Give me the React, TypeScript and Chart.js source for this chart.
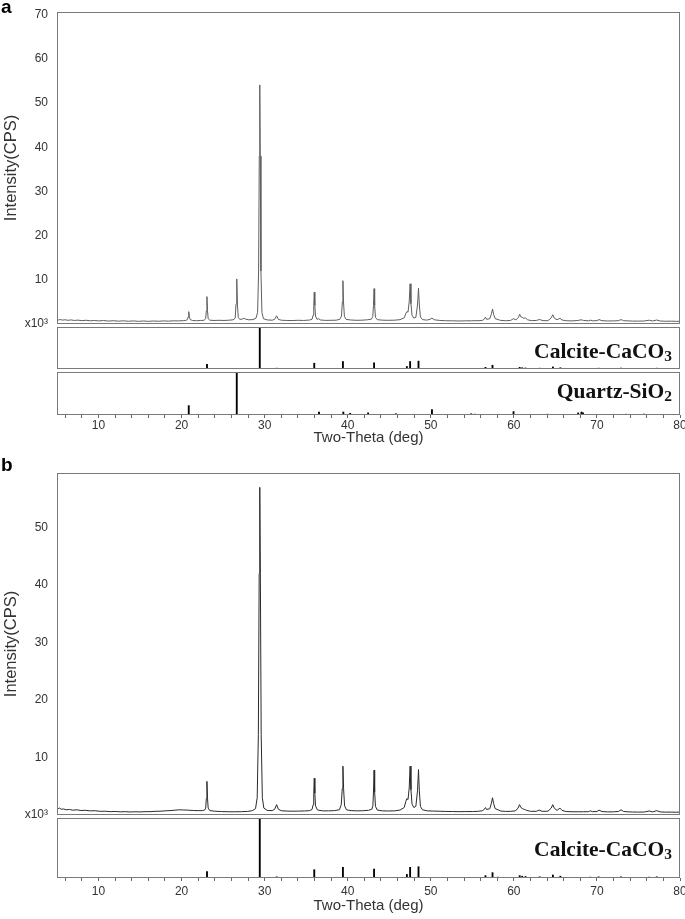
import { useEffect, useRef } from 'react';
import { Chart, registerables } from 'chart.js';

Chart.register(...registerables);

const W = 685;
const H = 919;
const FONT = '"Liberation Sans", Arial, sans-serif';
const TXT = '#333333';

// ---- axis ticks ----
const xTicks = [6, 8, 10, 12, 14, 16, 18, 20, 22, 24, 26, 28, 30, 32, 34, 36, 38, 40, 42, 44, 46, 48, 50, 52, 54, 56, 58, 60, 62, 64, 66, 68, 70, 72, 74, 76, 78, 80];
const xTickLabels = [10, 20, 30, 40, 50, 60, 70, 80];
const yTicksA = [0, 10, 20, 30, 40, 50, 60, 70];
const yTicksB = [0, 10, 20, 30, 40, 50];

// ---- measured pattern (a): [2-theta (deg), intensity (x10^3 CPS)] ----
const patternA: [number, number][] = [
  [5.0, 1.05], [5.2, 0.92], [5.4, 1.0], [5.7, 0.88], [6.0, 0.96], [6.3, 0.84], [6.7, 0.92], [7.1, 0.8], [7.5, 0.88], [8.0, 0.76],
  [8.5, 0.85], [9.0, 0.72], [9.5, 0.8], [10.0, 0.7], [10.6, 0.78], [11.2, 0.66], [11.8, 0.74], [12.4, 0.64], [13.0, 0.72], [13.6, 0.62],
  [14.2, 0.7], [14.8, 0.6], [15.4, 0.68], [16.0, 0.6], [16.6, 0.68], [17.2, 0.62], [17.8, 0.7], [18.4, 0.64], [19.0, 0.72], [19.6, 0.7],
  [20.2, 0.76], [20.5, 0.8], [20.7, 1.0], [20.78, 1.6], [20.86, 2.8], [20.94, 1.6], [21.04, 1.0], [21.3, 0.8],
  [21.8, 0.74], [22.3, 0.8], [22.7, 0.84], [22.9, 1.2], [22.98, 3.0], [23.05, 6.2], [23.12, 3.0], [23.2, 1.2], [23.4, 0.86],
  [23.9, 0.8], [24.5, 0.84], [25.1, 0.8], [25.7, 0.86], [26.2, 0.95], [26.45, 1.3], [26.55, 4.5], [26.64, 10.2], [26.72, 4.5], [26.82, 1.5], [27.0, 1.05],
  [27.3, 1.1], [27.5, 1.3], [27.7, 1.1], [28.1, 0.95], [28.6, 1.0], [28.95, 1.3],
  [29.15, 2.6], [29.27, 12], [29.35, 38], [29.41, 54.1], [29.47, 38], [29.55, 12], [29.67, 2.6], [29.85, 1.2],
  [30.3, 0.92], [30.9, 0.86], [31.2, 1.05], [31.44, 1.85], [31.65, 1.05], [32.0, 0.86],
  [32.6, 0.8], [33.3, 0.78], [34.0, 0.84], [34.7, 0.8], [35.4, 0.9], [35.7, 1.05],
  [35.84, 2.0], [35.91, 4.2], [35.97, 7.2], [36.04, 4.2], [36.12, 1.8], [36.3, 1.05], [36.5, 1.2], [36.7, 0.92],
  [37.3, 0.82], [38.0, 0.84], [38.6, 0.86], [39.05, 1.05],
  [39.25, 1.8], [39.35, 5.0], [39.42, 9.8], [39.49, 5.0], [39.6, 1.7], [39.8, 1.05],
  [40.3, 0.92], [41.0, 0.84], [41.7, 0.86], [42.4, 0.96], [42.85, 1.1],
  [43.02, 1.7], [43.1, 4.2], [43.17, 8.0], [43.24, 4.2], [43.34, 1.5], [43.55, 0.98],
  [44.2, 0.86], [44.9, 0.84], [45.6, 0.86], [46.3, 0.98], [46.8, 1.4],
  [47.0, 2.4], [47.12, 2.8], [47.26, 2.7], [47.4, 5.0], [47.51, 9.1], [47.61, 4.6], [47.74, 2.0], [47.95, 1.35],
  [48.2, 1.5], [48.4, 4.3], [48.52, 8.1], [48.62, 4.3], [48.75, 1.6], [49.0, 1.0],
  [49.5, 0.88], [49.9, 1.05], [50.14, 1.35], [50.4, 0.96], [51.0, 0.82],
  [51.8, 0.74], [52.6, 0.72], [53.4, 0.68], [54.2, 0.72], [54.9, 0.72], [55.3, 0.76], [55.8, 0.74], [56.25, 0.84],
  [56.45, 1.1], [56.58, 1.55], [56.72, 1.05], [57.1, 1.2], [57.3, 2.3], [57.43, 3.4], [57.56, 2.2], [57.75, 1.2], [58.1, 1.0], [58.4, 0.82],
  [59.0, 0.74], [59.6, 0.8], [59.96, 1.2], [60.25, 0.92], [60.55, 1.5], [60.7, 2.2], [60.85, 1.6], [61.0, 1.5], [61.2, 1.3], [61.4, 1.35], [61.65, 0.96], [62.1, 0.76],
  [62.7, 0.8], [63.1, 1.02], [63.5, 0.76], [64.1, 0.76], [64.5, 1.4], [64.68, 2.1], [64.88, 1.3], [65.2, 0.96], [65.55, 1.3], [65.8, 0.9], [66.3, 0.74],
  [67.0, 0.7], [67.7, 0.8], [68.1, 0.95], [68.4, 0.8], [69.0, 0.72], [69.2, 0.88], [69.5, 0.72], [70.0, 0.76], [70.25, 1.0], [70.6, 0.76],
  [71.3, 0.68], [72.0, 0.7], [72.6, 0.76], [72.9, 1.0], [73.2, 0.76], [73.6, 0.72], [74.3, 0.66], [75.0, 0.65], [75.7, 0.68],
  [76.3, 0.86], [76.7, 0.68], [77.2, 0.9], [77.6, 0.68], [78.3, 0.62], [79.0, 0.64], [79.6, 0.6], [80.0, 0.62],
];

// ---- measured pattern (b) ----
const patternB: [number, number][] = [
  [5.0, 1.35], [5.15, 1.1], [5.3, 1.2], [5.5, 1.0], [5.8, 1.05], [6.1, 0.9], [6.5, 0.96], [6.9, 0.84], [7.4, 0.9], [7.9, 0.78],
  [8.4, 0.82], [9.0, 0.72], [9.6, 0.74], [10.2, 0.64], [10.8, 0.66], [11.4, 0.58], [12.0, 0.62], [12.6, 0.55], [13.2, 0.58], [13.8, 0.53],
  [14.4, 0.56], [15.0, 0.54], [15.6, 0.58], [16.2, 0.58], [16.8, 0.64], [17.4, 0.66], [18.0, 0.72], [18.6, 0.76], [19.2, 0.84], [19.7, 0.9],
  [20.2, 0.88], [20.8, 0.84], [21.4, 0.78], [22.0, 0.76], [22.5, 0.76], [22.78, 0.86],
  [22.9, 1.2], [22.98, 2.9], [23.05, 5.85], [23.12, 2.9], [23.2, 1.2], [23.4, 0.76],
  [24.0, 0.66], [24.8, 0.6], [25.6, 0.56], [26.4, 0.56], [27.2, 0.58], [27.9, 0.62], [28.5, 0.74], [28.9, 1.1],
  [29.1, 3.0], [29.24, 14], [29.34, 42], [29.41, 57], [29.48, 42], [29.58, 14], [29.72, 3.0], [29.9, 1.2],
  [30.3, 0.8], [30.9, 0.76], [31.2, 1.0], [31.44, 1.8], [31.65, 1.0], [32.0, 0.74],
  [32.7, 0.68], [33.4, 0.66], [34.1, 0.68], [34.8, 0.7], [35.4, 0.76], [35.7, 0.95],
  [35.84, 1.8], [35.91, 3.8], [35.97, 6.4], [36.04, 3.8], [36.12, 1.6], [36.35, 0.88],
  [37.0, 0.72], [37.7, 0.72], [38.4, 0.76], [39.0, 0.92],
  [39.22, 1.8], [39.34, 4.6], [39.42, 8.5], [39.5, 4.6], [39.62, 1.6], [39.85, 0.9],
  [40.4, 0.76], [41.1, 0.72], [41.8, 0.74], [42.5, 0.82], [42.9, 1.0],
  [43.03, 1.6], [43.1, 4.0], [43.17, 7.8], [43.24, 4.0], [43.34, 1.5], [43.55, 0.86],
  [44.2, 0.72], [44.9, 0.7], [45.6, 0.72], [46.3, 0.86], [46.8, 1.3],
  [47.0, 2.4], [47.12, 2.85], [47.26, 2.7], [47.4, 4.7], [47.51, 8.5], [47.61, 4.4], [47.74, 1.9], [47.95, 1.3],
  [48.2, 1.5], [48.4, 4.2], [48.52, 7.9], [48.62, 4.2], [48.75, 1.5], [49.0, 0.9],
  [49.6, 0.72], [50.3, 0.68], [51.0, 0.66], [51.8, 0.62], [52.6, 0.6], [53.4, 0.58], [54.2, 0.6], [55.0, 0.6], [55.7, 0.64], [56.2, 0.74],
  [56.45, 1.0], [56.58, 1.3], [56.72, 0.95], [57.1, 1.1], [57.3, 2.1], [57.43, 3.0], [57.56, 2.0], [57.75, 1.1], [58.1, 0.9], [58.4, 0.7],
  [59.0, 0.62], [59.6, 0.64], [60.2, 0.72], [60.5, 1.2], [60.68, 1.8], [60.85, 1.3], [61.05, 1.1], [61.3, 0.95], [61.55, 0.8], [62.0, 0.64],
  [62.7, 0.64], [63.05, 0.85], [63.4, 0.64], [64.1, 0.66], [64.5, 1.2], [64.68, 1.8], [64.88, 1.15], [65.2, 0.8], [65.55, 1.2], [65.8, 0.8], [66.3, 0.6],
  [67.0, 0.56], [67.7, 0.56], [68.4, 0.56], [69.0, 0.58], [69.2, 0.72], [69.45, 0.58], [70.0, 0.6], [70.25, 0.85], [70.6, 0.6],
  [71.3, 0.54], [72.0, 0.55], [72.6, 0.62], [72.9, 0.9], [73.2, 0.62], [73.6, 0.56], [74.3, 0.52], [75.0, 0.5], [75.7, 0.52],
  [76.3, 0.7], [76.7, 0.54], [77.2, 0.75], [77.6, 0.54], [78.3, 0.5], [79.0, 0.5], [79.6, 0.48], [80.0, 0.5],
];

// ---- reference cards (relative intensity, %) ----
const calcitePos = [23.06, 29.41, 31.44, 35.97, 39.42, 43.17, 47.12, 47.51, 48.52, 56.58, 57.43, 58.1, 60.7, 61.0, 61.4, 63.1, 64.7, 65.6, 69.2, 70.2, 72.9, 73.6, 76.3, 77.2];
const calciteInt = [11, 100, 2, 14, 18, 15, 6, 18, 19, 4, 9, 1.5, 4, 3, 2.5, 2, 5, 3, 1.5, 2, 2, 1, 1.5, 2];
const quartzPos = [20.86, 26.64, 36.54, 39.47, 40.29, 42.45, 45.79, 50.14, 54.87, 55.33, 59.96, 64.04, 65.79, 67.74, 68.14, 68.32, 73.47, 75.66, 77.68];
const quartzInt = [22, 100, 7, 7, 4, 5, 3, 13, 3, 2, 8, 2, 1, 5, 7, 5, 2, 2, 1.5];

const boxPlugin = {
  id: 'frameBox',
  afterDraw(chart: any) {
    const { ctx, chartArea: a } = chart;
    ctx.save();
    ctx.strokeStyle = '#7a7a7a';
    ctx.lineWidth = 1;
    const l = Math.round(a.left), t = Math.round(a.top), r = Math.round(a.right), b = Math.round(a.bottom);
    ctx.strokeRect(l + 0.5, t + 0.5, r - l - 1, b - t - 1);
    ctx.restore();
  },
};

function hiddenX() {
  return { type: 'linear', min: 5, max: 80, display: false, offset: false, grid: { offset: false } };
}

function axisX(tickPad: number, scaleH: number, titlePad: number) {
  return {
    type: 'linear', min: 5, max: 80, offset: false, position: 'bottom',
    afterBuildTicks: (s: any) => { s.ticks = xTicks.map((v) => ({ value: v })); },
    afterFit: (s: any) => { s.height = scaleH; s.paddingLeft = 0; s.paddingRight = 0; },
    ticks: {
      autoSkip: false, maxRotation: 0, minRotation: 0, padding: tickPad, color: TXT,
      font: { family: FONT, size: 12 },
      callback: (v: any) => (xTickLabels.includes(Number(v)) ? String(v) : ''),
    },
    grid: { display: true, drawOnChartArea: false, drawTicks: true, tickLength: 3, color: '#666666', offset: false },
    border: { display: false },
    title: { display: true, text: 'Two-Theta (deg)', color: TXT, font: { family: FONT, size: 15 }, padding: { top: 0, bottom: titlePad } },
  };
}

function axisY(max: number, ticks: number[]) {
  return {
    type: 'linear', min: 0, max,
    afterBuildTicks: (s: any) => { s.ticks = ticks.map((v) => ({ value: v })); },
    afterFit: (s: any) => { s.width = 57; s.paddingTop = 0; s.paddingBottom = 0; },
    ticks: { padding: 9, color: TXT, font: { family: FONT, size: 12 }, callback: (v: any) => (Number(v) === 0 ? 'x10³' : String(v)) },
    grid: { display: false, drawTicks: false },
    border: { display: false },
    title: { display: true, text: 'Intensity(CPS)', color: TXT, font: { family: FONT, size: 16.5 }, padding: { top: 2, bottom: 0 } },
  };
}

function baseOptions(padding: any, scales: any) {
  return {
    animation: false, responsive: false, devicePixelRatio: 1, events: [],
    layout: { padding },
    plugins: { legend: { display: false }, tooltip: { enabled: false }, title: { display: false } },
    scales,
  };
}

function makeMain(canvas: HTMLCanvasElement, pattern: [number, number][], color: string, ymax: number, yt: number[], top: number, bottom: number) {
  return new Chart(canvas, {
    type: 'line',
    data: { datasets: [{ data: pattern.map(([x, y]) => ({ x, y })), borderColor: color, borderWidth: 1, pointRadius: 0, tension: 0, fill: false }] },
    options: baseOptions({ left: 0, right: 5, top, bottom: H - bottom }, { x: hiddenX(), y: axisY(ymax, yt) }) as any,
    plugins: [boxPlugin],
  } as any);
}

function makeSticks(canvas: HTMLCanvasElement, pos: number[], ints: number[], top: number, bottom: number, axis: any, axisH: number) {
  return new Chart(canvas, {
    type: 'bar',
    data: { datasets: [{ data: pos.map((x, i) => ({ x, y: ints[i] })), backgroundColor: '#000000', borderWidth: 0, barThickness: 1.2 }] },
    options: baseOptions({ left: 57, right: 5, top, bottom: H - bottom - axisH }, { x: axis || hiddenX(), y: { type: 'linear', min: 0, max: 101, display: false } }) as any,
    plugins: [boxPlugin],
  } as any);
}

const phaseStyle: any = {
  position: 'absolute', right: 13, fontFamily: '"Liberation Serif", "Times New Roman", serif', fontWeight: 'bold',
  fontSize: 21.5, lineHeight: '22px', color: '#111', whiteSpace: 'nowrap', pointerEvents: 'none',
};
const subStyle: any = { fontSize: '0.72em', verticalAlign: '-0.22em', lineHeight: 0 };
const panelStyle: any = {
  position: 'absolute', left: 1, fontFamily: FONT, fontWeight: 'bold', fontSize: 19, lineHeight: '19px', color: '#000', pointerEvents: 'none',
};

export default function App() {
  const r0 = useRef<HTMLCanvasElement>(null);
  const r1 = useRef<HTMLCanvasElement>(null);
  const r2 = useRef<HTMLCanvasElement>(null);
  const r3 = useRef<HTMLCanvasElement>(null);
  const r4 = useRef<HTMLCanvasElement>(null);
  const refs = [r0, r1, r2, r3, r4];

  useEffect(() => {
    const charts = [
      makeMain(r0.current!, patternA, '#5e5e5e', 70.6, yTicksA, 12, 324),
      makeSticks(r1.current!, calcitePos, calciteInt, 327, 369, null, 0),
      makeSticks(r2.current!, quartzPos, quartzInt, 372, 415, axisX(0, 35, 3), 35),
      makeMain(r3.current!, patternB, '#2a2a2a', 59.5, yTicksB, 473, 815),
      makeSticks(r4.current!, calcitePos, calciteInt, 818, 878, axisX(3, 40, 3), 40),
    ];
    return () => charts.forEach((c) => c.destroy());
  }, []);

  return (
    <div style={{ position: 'absolute', left: 0, top: 0, width: W, height: H, background: '#fff', overflow: 'hidden' }}>
      {refs.map((r, i) => (
        <canvas key={i} ref={r} width={W} height={H} style={{ position: 'absolute', left: 0, top: 0, width: W, height: H }} />
      ))}
      <div style={{ ...panelStyle, top: -3 }}>a</div>
      <div style={{ ...panelStyle, top: 455 }}>b</div>
      <div style={{ ...phaseStyle, top: 340 }}>Calcite-CaCO<sub style={subStyle}>3</sub></div>
      <div style={{ ...phaseStyle, top: 380 }}>Quartz-SiO<sub style={subStyle}>2</sub></div>
      <div style={{ ...phaseStyle, top: 838 }}>Calcite-CaCO<sub style={subStyle}>3</sub></div>
    </div>
  );
}
